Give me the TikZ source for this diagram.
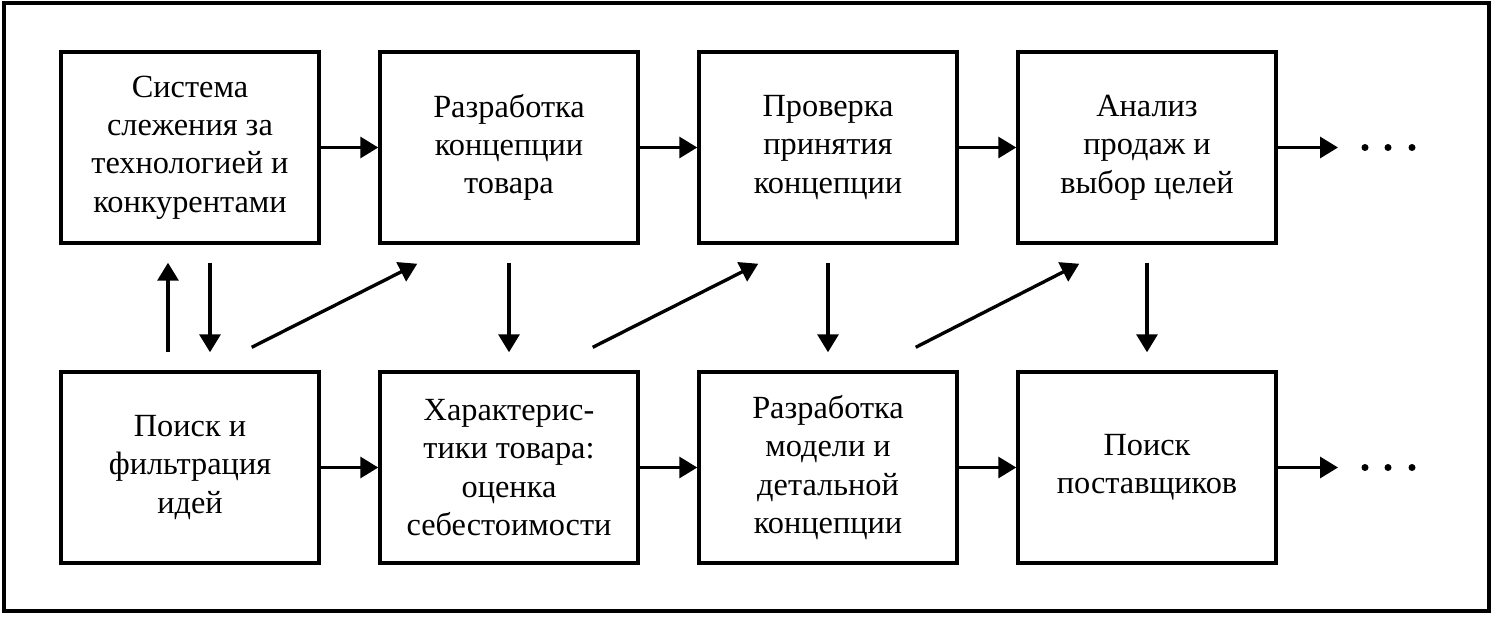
\documentclass[tikz,border=0pt]{standalone}
\usepackage{fontspec}
\setmainfont{Liberation Serif}
\usetikzlibrary{arrows.meta}

\begin{document}
\begin{tikzpicture}
  [x=0.02cm,y=-0.02cm,
   box/.style={draw,line width=2pt,minimum width=5.16cm,minimum height=3.82cm,
     align=center,inner sep=2pt,font=\fontsize{18.4}{21.8}\selectfont},
   arr/.style={line width=1.9pt,-{Triangle[length=0.36cm,width=0.42cm]}}]
  \useasboundingbox (0,0) rectangle (1494,616);
  \draw[line width=2.2pt] (4,3) rectangle (1489,611);
  % upper row
  \node[box] (sys) at (190,147.5) {Система\\слежения за\\технологией и\\конкурентами};
  \node[box] (konc) at (509,147.5) {Разработка\\концепции\\товара};
  \node[box] (prov) at (828,147.5) {Проверка\\принятия\\концепции};
  \node[box] (anal) at (1147,147.5) {Анализ\\продаж и\\выбор целей};
  % lower row
  \node[box] (poisk) at (190,467.5) {Поиск и\\фильтрация\\идей};
  \node[box] (har) at (509,467.5) {Характерис-\\тики товара:\\оценка\\себестоимости};
  \node[box] (model) at (828,467.5) {Разработка\\модели и\\детальной\\концепции};
  \node[box] (post) at (1147,467.5) {Поиск\\поставщиков};
  \coordinate (endA) at (1338,147.5);
  \coordinate (endB) at (1338,467.5);
  \foreach \from/\to in {sys/konc,konc/prov,prov/anal,anal/endA,poisk/har,har/model,model/post,post/endB}
    \draw[arr] (\from) -- (\to);
  \foreach \x in {1365,1388,1412} {
    \fill (\x,147.5) circle (0.07cm);
    \fill (\x,467.5) circle (0.07cm);
  }
  % vertical links
  \draw[arr,shorten <=0.36cm,shorten >=0.36cm] ([xshift=-0.44cm]poisk.north) -- ([xshift=-0.44cm]sys.south);
  \draw[arr,shorten <=0.36cm,shorten >=0.36cm] ([xshift=0.4cm]sys.south) -- ([xshift=0.4cm]poisk.north);
  \foreach \from/\to in {konc/har,prov/model,anal/post}
    \draw[arr,shorten <=0.36cm,shorten >=0.36cm] (\from.south) -- (\to.north);
  % diagonal links
  \draw[arr] ([xshift=-1.38cm,yshift=0.46cm]poisk.north east) -- ([xshift=0.78cm,yshift=-0.38cm]konc.south west);
  \draw[arr] ([xshift=-0.94cm,yshift=0.46cm]har.north east) -- ([xshift=1.22cm,yshift=-0.38cm]prov.south west);
  \draw[arr] ([xshift=-0.86cm,yshift=0.46cm]model.north east) -- ([xshift=1.26cm,yshift=-0.38cm]anal.south west);
\end{tikzpicture}
\end{document}
